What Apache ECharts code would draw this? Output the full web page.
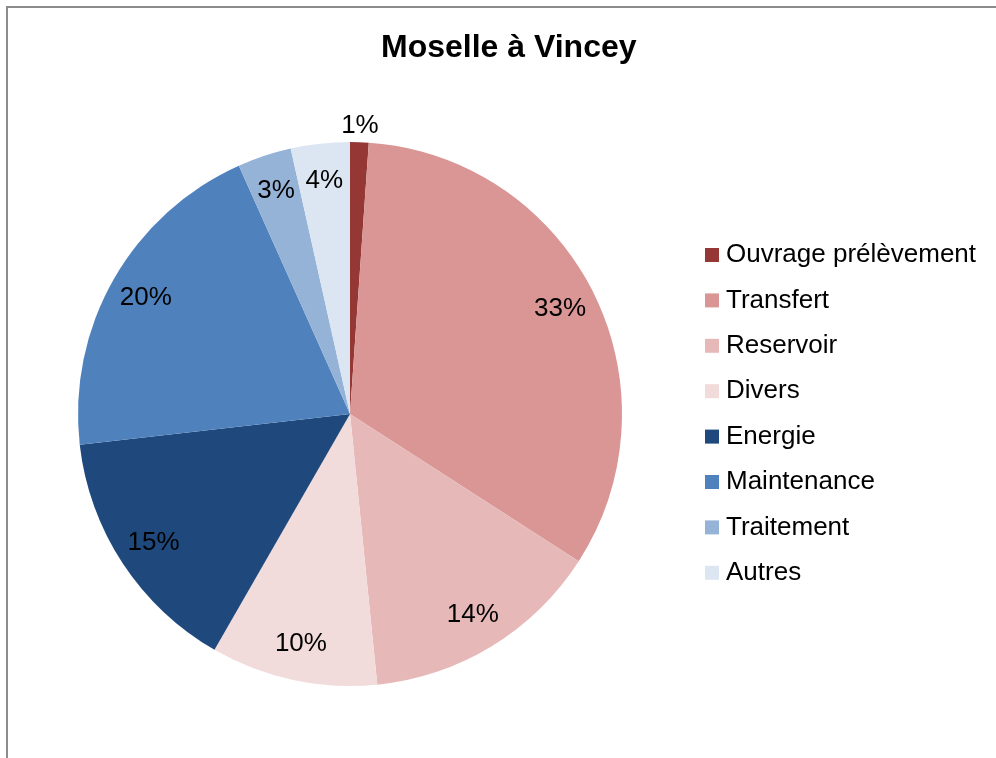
<!DOCTYPE html>
<html>
<head>
<meta charset="utf-8">
<script src="https://cdn.jsdelivr.net/npm/echarts@6/dist/echarts.min.js"></script>
<style>
html,body{margin:0;padding:0;background:#fff;}
#c{width:996px;height:758px;}
</style>
</head>
<body>
<div id="c"></div>
<script>
var titleText = 'Moselle à Vincey';
var categories = ['Ouvrage prélèvement','Transfert','Reservoir','Divers','Energie','Maintenance','Traitement','Autres'];
var values = [1.1, 33.0, 14.3, 9.9, 14.9, 20.1, 3.2, 3.5];
var colors = ['#953735','#D99694','#E6B9B8','#F2DCDB','#1F497D','#4F81BD','#95B3D7','#DCE6F2'];

var FONT = '"Liberation Sans", Arial, sans-serif';
var cx = 350, cy = 414, R = 272;
function pctLabel(p){ return Math.round(p.value) + '%'; }

var mainData = categories.map(function(n,i){ return {name:n, value:values[i], itemStyle:{color:colors[i]}}; });
var innerLabelData = categories.map(function(n,i){
  return {name:n, value:values[i], label:{show: i !== 0}};
});
var outerLabelData = categories.map(function(n,i){
  return {name:n, value:values[i], label:{show: i === 0}};
});

var chart = echarts.init(document.getElementById('c'), null, {renderer:'canvas'});
chart.setOption({
  animation:false,
  backgroundColor:'#fff',
  title:{
    text:titleText, left:381, top:32, padding:0,
    textStyle:{fontFamily:FONT, fontSize:32, fontWeight:'bold', color:'#000'}
  },
  legend:{
    orient:'vertical', left:705, top:242, padding:0,
    itemWidth:14, itemHeight:14, itemGap:19.4,
    icon:'rect',
    data:categories,
    selectedMode:false,
    textStyle:{fontFamily:FONT, fontSize:26, color:'#000', padding:[0,0,0,2]}
  },
  graphic:[{
    type:'rect', shape:{x:7, y:7, width:1000, height:800},
    style:{fill:'none', stroke:'#8c8c8c', lineWidth:2}, silent:true, z:-1
  }],
  series:[
    {
      type:'pie', center:[cx,cy], radius:[0,R], startAngle:90, clockwise:true,
      data:mainData, label:{show:false}, labelLine:{show:false},
      emphasis:{disabled:true}, silent:true
    },
    {
      type:'pie', center:[cx,cy], radius:[192,R], startAngle:90, clockwise:true,
      data:innerLabelData, itemStyle:{color:'rgba(0,0,0,0)'},
      label:{position:'inside', formatter:pctLabel, fontFamily:FONT, fontSize:26, color:'#000'},
      labelLine:{show:false}, emphasis:{disabled:true}, silent:true
    },
    {
      type:'pie', center:[cx,cy], radius:[R,298], startAngle:90, clockwise:true,
      data:outerLabelData, itemStyle:{color:'rgba(0,0,0,0)'},
      label:{position:'inside', formatter:pctLabel, fontFamily:FONT, fontSize:26, color:'#000'},
      labelLine:{show:false}, emphasis:{disabled:true}, silent:true
    }
  ]
});
</script>
</body>
</html>
